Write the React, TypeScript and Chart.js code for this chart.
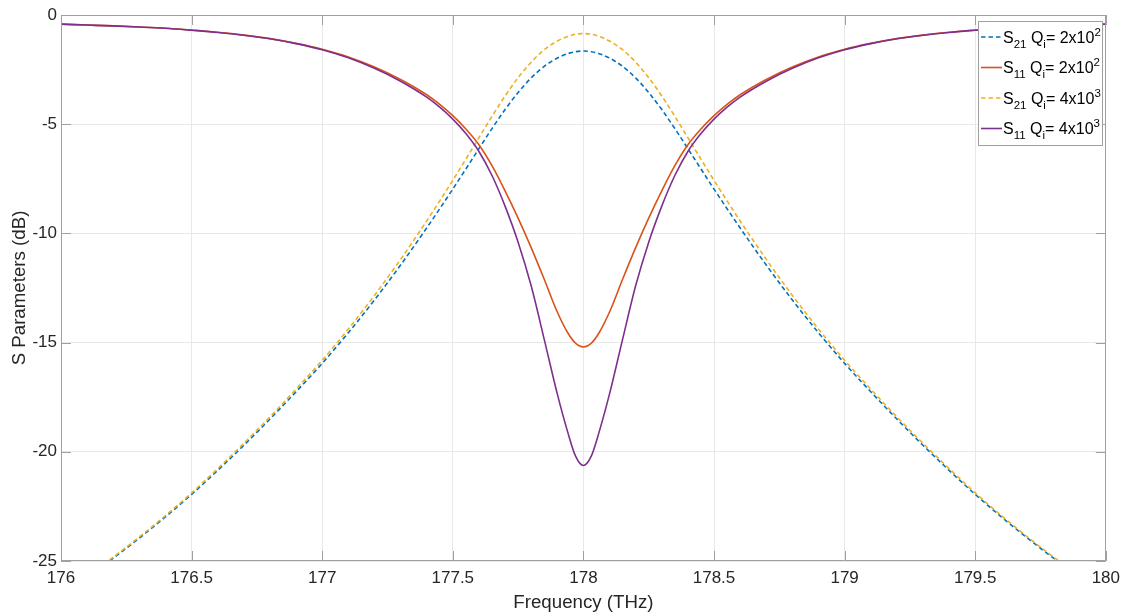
import React, { useEffect, useRef } from "react";
import { Chart, registerables } from "chart.js";

Chart.register(...registerables);

// ---- data ----
const frequencies = [
  176.0, 176.1, 176.2, 176.3, 176.4, 176.5, 176.6, 176.7, 176.8, 176.9,
  177.0, 177.1, 177.2, 177.3, 177.4, 177.45, 177.5, 177.55, 177.6, 177.65,
  177.7, 177.75, 177.8, 177.85, 177.9, 177.94, 177.97, 178.0, 178.03, 178.06,
  178.1, 178.15, 178.2, 178.25, 178.3, 178.35, 178.4, 178.45, 178.5, 178.55,
  178.6, 178.7, 178.8, 178.9, 179.0, 179.1, 179.2, 179.3, 179.4, 179.5,
  179.6, 179.7, 179.8, 179.9, 180.0,
];

const s21Qi200 = [
  -26.6, -25.75, -24.87, -23.95, -22.98, -21.95, -20.85, -19.7, -18.5, -17.25,
  -15.95, -14.55, -13.05, -11.45, -9.75, -8.87, -7.97, -7.05, -6.12, -5.2,
  -4.33, -3.55, -2.88, -2.35, -1.97, -1.77, -1.68, -1.65, -1.68, -1.77,
  -1.97, -2.35, -2.88, -3.55, -4.33, -5.2, -6.12, -7.05, -7.97, -8.87,
  -9.75, -11.45, -13.05, -14.55, -15.95, -17.25, -18.5, -19.7, -20.85, -21.95,
  -22.98, -23.95, -24.87, -25.75, -26.6,
];

const s11Qi200 = [
  -0.42, -0.46, -0.5, -0.55, -0.61, -0.69, -0.79, -0.92, -1.08, -1.3,
  -1.57, -1.92, -2.38, -2.95, -3.65, -4.09, -4.61, -5.22, -5.94, -6.9,
  -8.05, -9.3, -10.65, -12.1, -13.6, -14.55, -15.03, -15.2, -15.03, -14.55,
  -13.6, -12.1, -10.65, -9.3, -8.05, -6.9, -5.94, -5.22, -4.61, -4.09,
  -3.65, -2.95, -2.38, -1.92, -1.57, -1.3, -1.08, -0.92, -0.79, -0.69,
  -0.61, -0.55, -0.5, -0.46, -0.42,
];

const s21Qi4000 = [
  -26.56, -25.71, -24.82, -23.9, -22.92, -21.88, -20.77, -19.61, -18.4, -17.13,
  -15.81, -14.38, -12.84, -11.19, -9.43, -8.51, -7.57, -6.6, -5.62, -4.64,
  -3.71, -2.87, -2.16, -1.59, -1.19, -0.98, -0.88, -0.85, -0.88, -0.98,
  -1.19, -1.59, -2.16, -2.87, -3.71, -4.64, -5.62, -6.6, -7.57, -8.51,
  -9.43, -11.19, -12.84, -14.38, -15.81, -17.13, -18.4, -19.61, -20.77, -21.88,
  -22.92, -23.9, -24.82, -25.71, -26.56,
];

const s11Qi4000 = [
  -0.42, -0.46, -0.5, -0.55, -0.61, -0.7, -0.8, -0.93, -1.09, -1.31,
  -1.59, -1.96, -2.44, -3.03, -3.76, -4.22, -4.77, -5.43, -6.25, -7.35,
  -8.75, -10.4, -12.4, -14.85, -17.35, -19.1, -20.2, -20.63, -20.2, -19.1,
  -17.35, -14.85, -12.4, -10.4, -8.75, -7.35, -6.25, -5.43, -4.77, -4.22,
  -3.76, -3.03, -2.44, -1.96, -1.59, -1.31, -1.09, -0.93, -0.8, -0.7,
  -0.61, -0.55, -0.5, -0.46, -0.42,
];

const xTickValues = [176, 176.5, 177, 177.5, 178, 178.5, 179, 179.5, 180];
const yTickValues = [0, -5, -10, -15, -20, -25];
const xTitle = "Frequency (THz)";
const yTitle = "S Parameters (dB)";

// legend label parts: S<sub>, Q<sub>i</sub>= <mantissa>x10<sup>
const legendSub = ["21", "11", "21", "11"];
const legendMantissa = ["2", "2", "4", "4"];
const legendExponent = ["2", "2", "3", "3"];

const COLORS = ["#0072BD", "#D95319", "#EDB120", "#7E2F8E"];
const DASHED = [true, false, true, false];
const FONT = "'Liberation Sans', Arial, Helvetica, sans-serif";
const TEXT = "#262626";

const framePlugin = {
  id: "frame",
  afterDatasetsDraw(chart: any) {
    const { ctx, chartArea } = chart;
    const { left, right, top, bottom } = chartArea;
    const xs = chart.scales.x;
    const ys = chart.scales.y;
    ctx.save();
    ctx.strokeStyle = "#a0a0a0";
    ctx.lineWidth = 1;
    ctx.beginPath();
    ctx.rect(Math.round(left) + 0.5, Math.round(top) + 0.5, Math.round(right - left) - 1, Math.round(bottom - top) - 1);
    ctx.stroke();
    const tl = 10;
    ctx.beginPath();
    xTickValues.forEach((v) => {
      const px = Math.round(xs.getPixelForValue(v)) + 0.5;
      ctx.moveTo(px, bottom);
      ctx.lineTo(px, bottom - tl);
      ctx.moveTo(px, top);
      ctx.lineTo(px, top + tl);
    });
    yTickValues.forEach((v) => {
      const py = Math.round(ys.getPixelForValue(v)) + 0.5;
      ctx.moveTo(left, py);
      ctx.lineTo(left + tl, py);
      ctx.moveTo(right, py);
      ctx.lineTo(right - tl, py);
    });
    ctx.stroke();
    ctx.restore();
  },
};

const legendPlugin = {
  id: "matlabLegend",
  afterDraw(chart: any) {
    const { ctx } = chart;
    const bx = 978;
    const by = 21;
    const bw = 125;
    const bh = 125;
    ctx.save();
    ctx.fillStyle = "#ffffff";
    ctx.fillRect(bx, by, bw, bh);
    ctx.strokeStyle = "#a0a0a0";
    ctx.lineWidth = 1;
    ctx.strokeRect(bx + 0.5, by + 0.5, bw - 1, bh - 1);
    const rowY = [37, 67.5, 98, 128.5];
    const main = `16px ${FONT}`;
    const small = `11.5px ${FONT}`;
    ctx.textBaseline = "alphabetic";
    for (let i = 0; i < 4; i++) {
      const cy = rowY[i];
      ctx.strokeStyle = COLORS[i];
      ctx.lineWidth = 1.6;
      ctx.setLineDash(DASHED[i] ? [4.5, 3] : []);
      ctx.beginPath();
      ctx.moveTo(bx + 3, cy);
      ctx.lineTo(bx + 24, cy);
      ctx.stroke();
      ctx.setLineDash([]);
      ctx.fillStyle = "#000000";
      const base = cy + 5.5;
      let x = bx + 25;
      const put = (t: string, f: string, dy: number) => {
        ctx.font = f;
        ctx.fillText(t, x, base + dy);
        x += ctx.measureText(t).width;
      };
      put("S", main, 0);
      put(legendSub[i], small, 5);
      put(" Q", main, 0);
      put("i", small, 5);
      put(`= ${legendMantissa[i]}x10`, main, 0);
      put(legendExponent[i], small, -7);
    }
    ctx.restore();
  },
};

export default function App() {
  const ref = useRef<HTMLCanvasElement | null>(null);

  useEffect(() => {
    document.body.style.margin = "0";
    const canvas = ref.current;
    if (!canvas) return;
    const mk = (vals: number[]) => frequencies.map((f, i) => ({ x: f, y: vals[i] }));
    const series = [s21Qi200, s11Qi200, s21Qi4000, s11Qi4000];
    const names = ["S21 Qi=2x10^2", "S11 Qi=2x10^2", "S21 Qi=4x10^3", "S11 Qi=4x10^3"];
    const chart = new Chart(canvas, {
      type: "line",
      data: {
        datasets: series.map((vals, i) => ({
          label: names[i],
          data: mk(vals),
          borderColor: COLORS[i],
          backgroundColor: COLORS[i],
          borderWidth: 1.6,
          borderDash: DASHED[i] ? [4.5, 3] : [],
          pointRadius: 0,
          fill: false,
          cubicInterpolationMode: "monotone" as const,
          order: 4 - i,
          clip: 0,
        })),
      },
      plugins: [framePlugin, legendPlugin],
      options: {
        responsive: false,
        animation: false,
        devicePixelRatio: 1,
        layout: { padding: { left: 0, right: 19, top: 15, bottom: 0 } },
        plugins: {
          legend: { display: false },
          tooltip: { enabled: false },
        },
        scales: {
          x: {
            type: "linear",
            min: 176,
            max: 180,
            afterFit(scale: any) {
              scale.height = 53;
            },
            afterBuildTicks(scale: any) {
              scale.ticks = xTickValues.map((v) => ({ value: v }));
            },
            ticks: {
              color: TEXT,
              font: { family: FONT, size: 17 },
              padding: 7,
              maxRotation: 0,
              autoSkip: false,
              callback: (v: any) => String(v),
            },
            grid: { color: "#e8e8e8", drawTicks: false, lineWidth: 1 },
            border: { display: false },
            title: {
              display: true,
              text: xTitle,
              color: TEXT,
              font: { family: FONT, size: 18.7 },
              padding: { top: 0, bottom: 0 },
            },
          },
          y: {
            type: "linear",
            min: -25,
            max: 0,
            afterFit(scale: any) {
              scale.width = 61;
            },
            afterBuildTicks(scale: any) {
              scale.ticks = yTickValues.map((v) => ({ value: v }));
            },
            ticks: {
              color: TEXT,
              font: { family: FONT, size: 17 },
              padding: 4,
              autoSkip: false,
              callback: (v: any) => String(v),
            },
            grid: { color: "#e8e8e8", drawTicks: false, lineWidth: 1 },
            border: { display: false },
            title: {
              display: true,
              text: yTitle,
              color: TEXT,
              font: { family: FONT, size: 18.7 },
              padding: { top: 9, bottom: 0 },
            },
          },
        },
      },
    });
    return () => chart.destroy();
  }, []);

  return (
    <div style={{ position: "absolute", left: 0, top: 0, width: 1127, height: 614, background: "#fff" }}>
      <canvas ref={ref} width={1127} height={614} style={{ display: "block", width: 1127, height: 614 }} />
    </div>
  );
}
